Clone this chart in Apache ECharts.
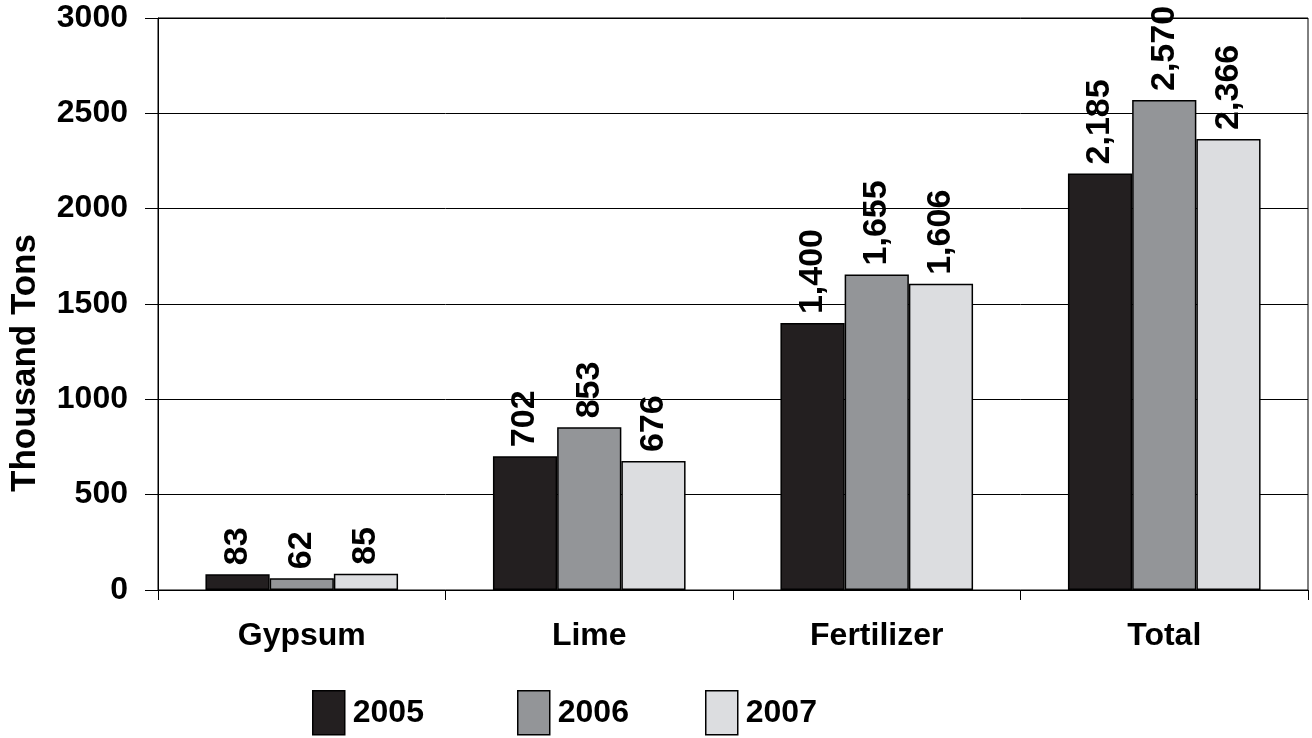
<!DOCTYPE html>
<html>
<head>
<meta charset="utf-8">
<script src="https://cdn.jsdelivr.net/npm/echarts@6/dist/echarts.min.js"></script>
<style>
  html, body { margin: 0; padding: 0; background: #fff; }
  #chart { width: 1312px; height: 738px; }
</style>
</head>
<body>
<div id="chart"></div>
<script>
const categories = ['Gypsum', 'Lime', 'Fertilizer', 'Total'];
const years = ['2005', '2006', '2007'];
const values2005 = [83, 702, 1400, 2185];
const values2006 = [62, 853, 1655, 2570];
const values2007 = [85, 676, 1606, 2366];
const yTicks = [0, 500, 1000, 1500, 2000, 2500, 3000];

const colors = ['#231f20', '#939598', '#dcdde0'];
const font = 'Liberation Sans, Arial, sans-serif';

const myChart = echarts.init(document.getElementById('chart'));

function makeSeries(name, data, color) {
    return {
        name: name,
        type: 'bar',
        data: data,
        barGap: '0%',
        barCategoryGap: '33%',
        itemStyle: { color: color, borderColor: '#000', borderWidth: 1.5 },
        label: {
            show: true,
            position: 'top',
            rotate: 90,
            align: 'left',
            verticalAlign: 'middle',
            distance: 9,
            color: '#000',
            fontFamily: font,
            fontWeight: 'bold',
            fontSize: 34,
            formatter: p => p.value.toLocaleString('en-US')
        }
    };
}

// legend entries are not evenly spaced in the original, so one legend per year
const legendLefts = [312, 517, 705];

function makeLegend(name, left) {
    return {
        data: [name],
        left: left,
        top: 690,
        padding: 0,
        itemWidth: 32,
        itemHeight: 44,
        icon: 'rect',
        itemStyle: { borderColor: '#000', borderWidth: 1.5 },
        textStyle: {
            fontFamily: font,
            fontWeight: 'bold',
            fontSize: 32,
            padding: [0, 0, 0, 3],
            color: '#000'
        }
    };
}

const option = {
    animation: false,
    backgroundColor: '#fff',
    grid: {
        left: 158, right: 4, top: 18, bottom: 148,
        show: true, borderColor: '#000', borderWidth: 1
    },
    legend: years.map((y, i) => makeLegend(y, legendLefts[i])),
    xAxis: {
        type: 'category',
        data: categories,
        axisLine: { lineStyle: { color: '#000', width: 1 } },
        axisTick: { show: true, length: 10, lineStyle: { color: '#000' } },
        axisLabel: {
            margin: 30,
            color: '#000',
            fontFamily: font,
            fontWeight: 'bold',
            fontSize: 32
        }
    },
    yAxis: {
        type: 'value',
        min: yTicks[0],
        max: yTicks[yTicks.length - 1],
        interval: 500,
        axisLine: { show: true, lineStyle: { color: '#000', width: 1 } },
        axisTick: { show: true, length: 13, lineStyle: { color: '#000' } },
        splitLine: { lineStyle: { color: '#000', width: 1 } },
        axisLabel: {
            margin: 30,
            color: '#000',
            fontFamily: font,
            fontWeight: 'bold',
            fontSize: 32,
            formatter: v => String(v)
        }
    },
    graphic: [{
        type: 'text',
        x: 25,
        y: 363,
        rotation: Math.PI / 2,
        style: {
            text: 'Thousand Tons',
            fill: '#000',
            font: 'bold 35px Liberation Sans, Arial, sans-serif',
            align: 'center',
            verticalAlign: 'middle'
        }
    }],
    series: [
        makeSeries(years[0], values2005, colors[0]),
        makeSeries(years[1], values2006, colors[1]),
        makeSeries(years[2], values2007, colors[2])
    ]
};

myChart.setOption(option);

window.addEventListener('resize', () => {
    myChart.resize();
});
</script>
</body>
</html>
